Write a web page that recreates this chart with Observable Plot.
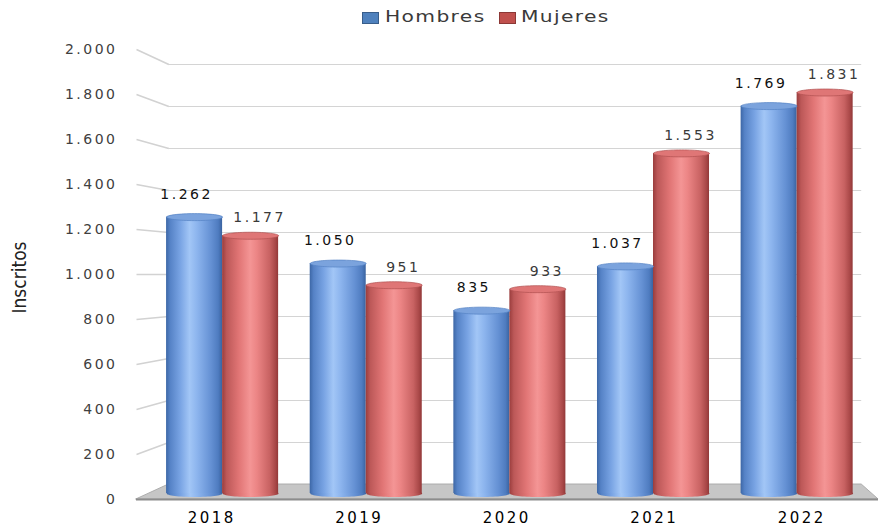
<!DOCTYPE html>
<html><head><meta charset="utf-8">
<script src="https://cdn.jsdelivr.net/npm/d3@7"></script>
<script src="https://cdn.jsdelivr.net/npm/@observablehq/plot@0.6"></script>
<style>
body{margin:0;background:#fff;}
#legend{position:relative;width:878px;height:34px;font-family:"DejaVu Sans",sans-serif;font-size:15px;color:#3a3a3a;}
.sw{position:absolute;top:12px;width:15px;height:10px;}
.lt{position:absolute;top:8px;letter-spacing:1px;transform:scaleX(1.35);transform-origin:0 0;white-space:nowrap;line-height:18px;}
</style></head>
<body>
<div id="legend">
  <div class="sw" style="left:362px;background:#4f81bd;border:1px solid #385d8a"></div>
  <div class="lt" style="left:385px">Hombres</div>
  <div class="sw" style="left:499px;background:#c0504d;border:1px solid #8c3836"></div>
  <div class="lt" style="left:521px">Mujeres</div>
</div>
<div id="chart"></div>
<script>
// ---- data ----
const years = ["2018", "2019", "2020", "2021", "2022"];
const hombres = [1262, 1050, 835, 1037, 1769];
const mujeres = [1177, 951, 933, 1553, 1831];
const yTicks = [0, 200, 400, 600, 800, 1000, 1200, 1400, 1600, 1800, 2000];
const yTitle = "Inscritos";

// ---- pseudo-3D perspective (front plane / bar plane / back wall) ----
const VX = 2.8, VY = 1000;          // vanishing centre in data units
const FRONT = 1.027, BACK = 0.959;  // depth factors
const XL = -0.51, XR = 4.52;        // box edges in the bar plane
const BW = 0.39;                    // bar width in band units
const px = (k) => (x) => VX + (x - VX) * k;
const py = (k) => (v) => VY + (v - VY) * k;
const frontX = px(FRONT), backX = px(BACK), frontY = py(FRONT), backY = py(BACK);
const FL = frontX(XL), FR = frontX(XR), BL = backX(XL), BR = backX(XR);
const F0 = frontY(0), B0 = backY(0);

const fmt = d3.formatLocale({decimal: ",", thousands: ".", grouping: [3], currency: ["", ""]}).format(",d");

const rowsH = years.map((y, i) => ({year: y, i, value: hombres[i], c: i - BW / 2}));
const rowsM = years.map((y, i) => ({year: y, i, value: mujeres[i], c: i + BW / 2}));
const floor = [
  {x: FL, y1: F0, y2: F0},
  {x: BL, y1: F0, y2: B0},
  {x: BR, y1: F0, y2: B0},
  {x: FR, y1: F0, y2: F0}
];

const ellipse = {
  draw(ctx) {
    const rx = 28, ry = 3.5, kx = rx * 0.5523, ky = ry * 0.5523;
    ctx.moveTo(rx, 0);
    ctx.bezierCurveTo(rx, ky, kx, ry, 0, ry);
    ctx.bezierCurveTo(-kx, ry, -rx, ky, -rx, 0);
    ctx.bezierCurveTo(-rx, -ky, -kx, -ry, 0, -ry);
    ctx.bezierCurveTo(kx, -ry, rx, -ky, rx, 0);
    ctx.closePath();
  }
};

const svg = Plot.plot({
  width: 878,
  height: 495,
  marginLeft: 136,
  marginRight: 0,
  marginTop: 21,
  marginBottom: 36,
  style: {fontFamily: "DejaVu Sans, sans-serif", fontSize: "14px", letterSpacing: "2.5px", background: "#fff", overflow: "visible"},
  x: {domain: [FL, FR], axis: null},
  y: {domain: [0, 2000], axis: null},
  marks: [
    // floor
    Plot.areaY(floor, {x: "x", y1: "y1", y2: "y2", fill: "#c6c6c6", stroke: "#adadad", strokeWidth: 1}),
    Plot.ruleY([F0], {x1: FL, x2: FR, stroke: "#8c8c8c", strokeWidth: 2}),
    // back wall gridlines + slanted side-wall lines
    Plot.ruleY(yTicks.filter(d => d > 0), {y: d => backY(d), x1: BL, x2: BR, stroke: "#d4d4d4", strokeWidth: 1.2}),
    Plot.link(yTicks.filter(d => d > 0), {x1: FL, y1: d => frontY(d), x2: BL, y2: d => backY(d), stroke: "#d2d2d2", strokeWidth: 1.6}),
    // bar bottoms
    Plot.dot(rowsH, {x: "c", y: 0, symbol: ellipse, fill: "url(#gB)", stroke: "none"}),
    Plot.dot(rowsM, {x: "c", y: 0, symbol: ellipse, fill: "url(#gR)", stroke: "none"}),
    // bars
    Plot.rectY(rowsH, {x1: d => d.i - BW, x2: d => d.i, y: "value", fill: "url(#gB)"}),
    Plot.rectY(rowsM, {x1: d => d.i, x2: d => d.i + BW, y: "value", fill: "url(#gR)"}),
    // caps
    Plot.dot(rowsH, {x: "c", y: "value", symbol: ellipse, fill: "#7ba3dd", stroke: "#5583c4", strokeWidth: 0.7}),
    Plot.dot(rowsM, {x: "c", y: "value", symbol: ellipse, fill: "#df7676", stroke: "#b05050", strokeWidth: 0.7}),
    // data labels
    Plot.text(rowsH, {x: "c", y: "value", text: d => fmt(d.value), dx: -8, dy: -23, fill: "#111", fontSize: 14}),
    Plot.text(rowsM, {x: "c", y: "value", text: d => fmt(d.value), dx: 9, dy: -18, fill: "#3a3a3a", fontSize: 14}),
    // y tick labels (front plane)
    Plot.text(yTicks, {x: FL, y: d => frontY(d), text: d => fmt(d), textAnchor: "end", dx: -19, fill: "#404040", fontSize: 14}),
    // x labels
    Plot.text(years, {x: (d, i) => frontX(i), y: F0, text: d => d, dy: 19, fill: "#000", fontSize: 15}),
    // y title
    Plot.text([yTitle], {x: FL, y: 1000, text: d => d, dx: -117, dy: 3, rotate: -90, fill: "#222", fontSize: 19, fontFamily: "Liberation Sans Narrow, DejaVu Sans Condensed, sans-serif"})
  ]
});

// gradients
const defs = d3.select(svg).insert("defs", ":first-child");
function grad(id, stops) {
  const g = defs.append("linearGradient").attr("id", id).attr("x1", "0").attr("x2", "1").attr("y1", "0").attr("y2", "0");
  stops.forEach(([o, c]) => g.append("stop").attr("offset", o).attr("stop-color", c));
}
grad("gB", [[0, "#3d67a6"], [0.07, "#5582c6"], [0.25, "#78a3e3"], [0.42, "#a2c6f6"], [0.55, "#8db5ee"], [0.8, "#6591d4"], [0.93, "#4f7cc0"], [1, "#3a63a0"]]);
grad("gR", [[0, "#9a3d3d"], [0.08, "#bc5858"], [0.3, "#e17575"], [0.5, "#f49595"], [0.62, "#ec8585"], [0.85, "#c86262"], [0.95, "#a94848"], [1, "#923838"]]);
d3.select(svg).selectAll("text").filter(function () { return this.textContent === yTitle; }).style("letter-spacing", "0px");

document.getElementById("chart").appendChild(svg);
</script>
</body></html>
